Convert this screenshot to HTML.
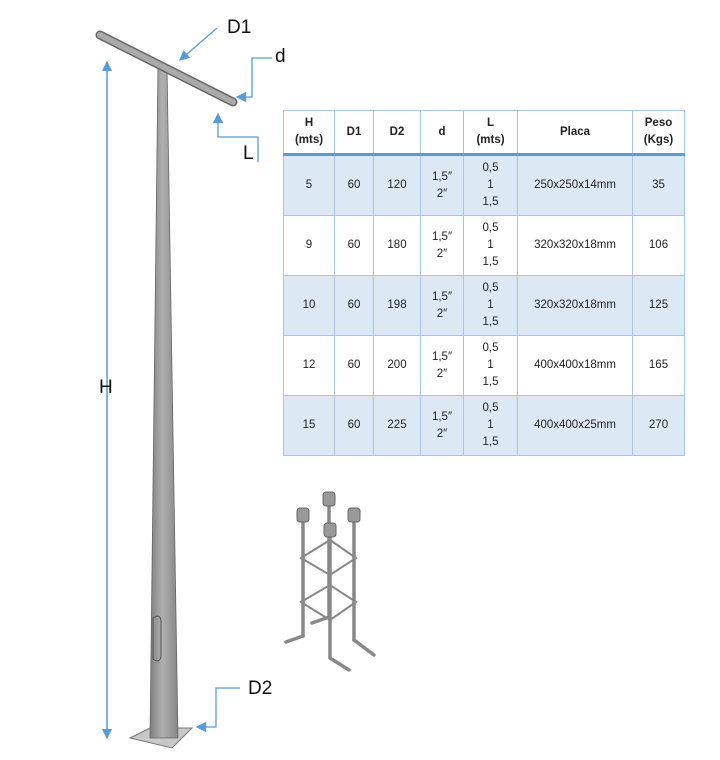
<!DOCTYPE html>
<html><head><style>
body{margin:0;background:#fff;width:720px;height:760px;position:relative;overflow:hidden;font-family:"Liberation Sans",sans-serif}
table{position:absolute;left:283px;top:110px;border-collapse:collapse;font-size:11.5px;color:#222;text-align:center}
td,th{border:1px solid #a9c6e6;padding:0;line-height:17px}
th{height:42px;font-weight:bold;border-bottom:3px solid #5b9bd5}
td{height:59px}
tr.b td{background:#dde8f5}
.lbl{position:absolute;font-size:19px;color:#111}
</style></head><body>
<svg width="720" height="760" style="position:absolute;left:0;top:0">
<defs><linearGradient id="g" x1="0" x2="1"><stop offset="0" stop-color="#7e7e7e"/><stop offset="0.45" stop-color="#b0b0b0"/><stop offset="1" stop-color="#858585"/></linearGradient>
<marker id="a" markerWidth="8" markerHeight="8" refX="7" refY="4" orient="auto"><path d="M0,0L8,4L0,8z" fill="#5b9bd5"/></marker></defs>
<polygon points="130,738 150,728 192,728 172,748" fill="#c8c8c8" stroke="#777"/>
<polygon points="158,66 167,66 178,738 150,738" fill="url(#g)" stroke="#666" stroke-width="0.8"/>
<path d="M153,618 q7,-5 8,3 v35 q-1,8 -8,3z" fill="none" stroke="#555"/>
<line x1="100" y1="35" x2="233" y2="102" stroke="#666" stroke-width="9" stroke-linecap="round"/>
<line x1="100" y1="35" x2="233" y2="102" stroke="#aaa" stroke-width="6" stroke-linecap="round"/>
<g stroke="#5b9bd5" stroke-width="1.3" fill="none">
<line x1="107" y1="62" x2="107" y2="738" marker-end="url(#a)"/>
<line x1="107" y1="738" x2="107" y2="62" marker-end="url(#a)"/>
<line x1="217" y1="28" x2="180" y2="60" marker-end="url(#a)"/>
<polyline points="272,58 252,58 252,97 237,97" marker-end="url(#a)"/>
<polyline points="258,162 258,137 218,137 218,114" marker-end="url(#a)"/>
<polyline points="240,688 216,688 216,727 197,727" marker-end="url(#a)"/>
</g>
<g stroke="#888" stroke-width="3.5" stroke-linecap="round" fill="none">
<line x1="303" y1="515" x2="303" y2="636"/><line x1="303" y1="636" x2="286" y2="642"/>
<line x1="329" y1="500" x2="329" y2="617"/><line x1="329" y1="617" x2="312" y2="623"/>
<line x1="354" y1="515" x2="354" y2="640"/><line x1="354" y1="640" x2="374" y2="655"/>
<line x1="330" y1="530" x2="330" y2="658"/><line x1="330" y1="658" x2="349" y2="670"/>
<path d="M301,558 L330,540 L356,558 L330,575 Z M301,602 L330,585 L356,602 L330,620 Z" stroke-width="2"/>
</g>
<g fill="#999" stroke="#666"><rect x="297" y="508" width="12" height="14" rx="3"/><rect x="323" y="492" width="12" height="14" rx="3"/><rect x="348" y="508" width="12" height="14" rx="3"/><rect x="324" y="523" width="12" height="14" rx="3"/></g>
</svg>
<div class="lbl" style="left:227px;top:17px">D1</div>
<div class="lbl" style="left:275px;top:46px">d</div>
<div class="lbl" style="left:243px;top:143px">L</div>
<div class="lbl" style="left:99px;top:377px">H</div>
<div class="lbl" style="left:248px;top:678px">D2</div>
<table>
<tr><th style="width:50px">H<br>(mts)</th><th style="width:38px">D1</th><th style="width:46px">D2</th><th style="width:42px">d</th><th style="width:53px">L<br>(mts)</th><th style="width:114px">Placa</th><th style="width:51px">Peso<br>(Kgs)</th></tr>
<tr class="b"><td>5</td><td>60</td><td>120</td><td>1,5″<br>2″</td><td>0,5<br>1<br>1,5</td><td>250x250x14mm</td><td>35</td></tr>
<tr><td>9</td><td>60</td><td>180</td><td>1,5″<br>2″</td><td>0,5<br>1<br>1,5</td><td>320x320x18mm</td><td>106</td></tr>
<tr class="b"><td>10</td><td>60</td><td>198</td><td>1,5″<br>2″</td><td>0,5<br>1<br>1,5</td><td>320x320x18mm</td><td>125</td></tr>
<tr><td>12</td><td>60</td><td>200</td><td>1,5″<br>2″</td><td>0,5<br>1<br>1,5</td><td>400x400x18mm</td><td>165</td></tr>
<tr class="b"><td>15</td><td>60</td><td>225</td><td>1,5″<br>2″</td><td>0,5<br>1<br>1,5</td><td>400x400x25mm</td><td>270</td></tr>
</table>
</body></html>
